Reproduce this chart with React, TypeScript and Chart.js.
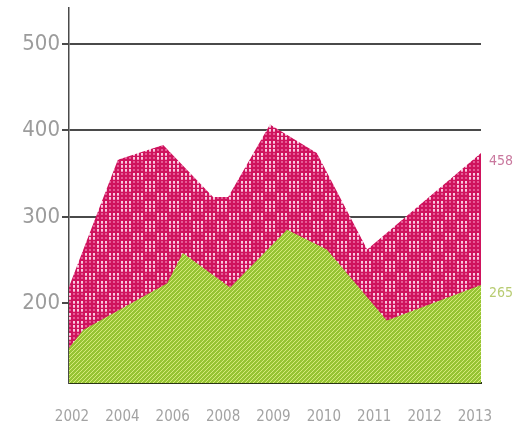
import React, { useEffect, useRef } from "react";
import { Chart, registerables } from "chart.js";

Chart.register(...registerables);

// ---- data ----
const yearLabels = ["2002", "2004", "2006", "2008", "2009", "2010", "2011", "2012", "2013"];
const yTickValues = [200, 300, 400, 500];

// x values are positions along the year axis (0 = 2002 label, 8 = 2013 label)
const pinkX = [-0.06, 0.91, 1.81, 2.8, 3.1, 3.93, 4.86, 5.86, 8.12];
const pinkY = [219, 366, 383, 323, 323, 407, 374, 262, 374];
const greenX = [-0.06, 0.22, 1.89, 2.2, 3.14, 4.27, 5.06, 6.25, 8.12];
const greenY = [148, 169, 223, 258, 218, 285, 262, 180, 221];

const pinkEndLabel = "458";
const greenEndLabel = "265";

type FontSpec = { family: string; weight: string; size: number };

function pickFont(stretch: string, size: number, fbSize: number): FontSpec {
  const c = document.createElement("canvas").getContext("2d");
  if (c) {
    c.font = `${size}px "Noto Sans"`;
    const w0 = c.measureText("2002").width;
    c.font = `300 ${stretch} ${size}px "Noto Sans"`;
    const w1 = c.measureText("2002").width;
    if (w1 < w0 * 0.9) return { family: '"Noto Sans"', weight: `300 ${stretch}`, size };
  }
  return { family: '"DejaVu Sans Condensed", "DejaVu Sans", sans-serif', weight: "normal", size: fbSize };
}

function makePinkPattern(): CanvasPattern | string {
  const c = document.createElement("canvas");
  c.width = 24;
  c.height = 20;
  const g = c.getContext("2d");
  if (!g) return "#d0145e";
  g.fillStyle = "#cf135d";
  g.fillRect(0, 0, 24, 20);
  for (let y = 0; y < 20; y += 4) {
    for (let x = 0; x < 24; x += 4) {
      const dense = (x < 12) === (y < 10);
      g.fillStyle = dense ? "#f8c8de" : "#e65a95";
      g.fillRect(x + 1, y + 1, 2, 2);
      if (dense) {
        g.fillStyle = "#ee8db8";
        g.fillRect(x + 1, y + 3, 2, 1);
      }
    }
  }
  return g.createPattern(c, "repeat") || "#d0145e";
}

function makeGreenPattern(): CanvasPattern | string {
  const c = document.createElement("canvas");
  c.width = 8;
  c.height = 8;
  const g = c.getContext("2d");
  if (!g) return "#9cc83a";
  g.fillStyle = "#97c434";
  g.fillRect(0, 0, 8, 8);
  g.strokeStyle = "#d6ea7c";
  g.lineWidth = 1;
  for (let x = -8; x <= 8; x += 4) {
    g.beginPath();
    g.moveTo(x, 8);
    g.lineTo(x + 8, 0);
    g.stroke();
  }
  return g.createPattern(c, "repeat") || "#9cc83a";
}

export default function App() {
  const canvasRef = useRef<HTMLCanvasElement | null>(null);

  useEffect(() => {
    if (!canvasRef.current) return;
    const yFont = pickFont("extra-condensed", 29, 22);
    const xFont = pickFont("condensed", 17, 15);
    const endFont = pickFont("condensed", 17, 14);

    const endLabelPlugin = {
      id: "endLabels",
      afterDatasetsDraw(chart: any) {
        const ctx = chart.ctx;
        chart.data.datasets.forEach((ds: any, i: number) => {
          const meta = chart.getDatasetMeta(i);
          const pt = meta.data[meta.data.length - 1];
          if (!pt || !ds.endLabel) return;
          ctx.save();
          ctx.font = `${endFont.weight} ${endFont.size}px ${endFont.family}`;
          ctx.fillStyle = ds.endLabelColor;
          ctx.textAlign = "left";
          ctx.textBaseline = "middle";
          ctx.fillText(ds.endLabel, chart.chartArea.right + 8, pt.y + 8);
          ctx.restore();
        });
      },
    };

    const pinkData = pinkX.map((x, i) => ({ x, y: pinkY[i] }));
    const greenData = greenX.map((x, i) => ({ x, y: greenY[i] }));

    const chart = new Chart(canvasRef.current, {
      type: "line",
      data: {
        datasets: [
          {
            label: "pink",
            data: pinkData,
            backgroundColor: makePinkPattern(),
            borderWidth: 0,
            pointRadius: 0,
            fill: "start",
            tension: 0,
            order: 2,
            endLabel: pinkEndLabel,
            endLabelColor: "#c9789e",
          } as any,
          {
            label: "green",
            data: greenData,
            backgroundColor: makeGreenPattern(),
            borderWidth: 0,
            pointRadius: 0,
            fill: "start",
            tension: 0,
            order: 1,
            endLabel: greenEndLabel,
            endLabelColor: "#b8cc72",
          } as any,
        ],
      },
      options: {
        animation: false,
        responsive: true,
        maintainAspectRatio: false,
        layout: { padding: { top: 8, right: 35, left: 0, bottom: 0 } },
        plugins: {
          legend: { display: false },
          tooltip: { enabled: false },
        },
        scales: {
          x: {
            type: "linear",
            min: -0.06,
            max: 8.12,
            afterBuildTicks: (s: any) => {
              s.ticks = yearLabels.map((_, i) => ({ value: i }));
            },
            ticks: {
              callback: (_v: any, i: number) => yearLabels[i],
              color: "#a3a3a3",
              font: { family: xFont.family, size: xFont.size, weight: xFont.weight },
              padding: 25,
              maxRotation: 0,
              autoSkip: false,
            },
            grid: { display: false, drawTicks: false },
            border: { display: true, color: "#2b3516", width: 2 },
            afterFit: (s: any) => {
              s.height = 46;
              s.paddingLeft = 0;
              s.paddingRight = 0;
            },
          },
          y: {
            type: "linear",
            min: 107.5,
            max: 541.8,
            afterBuildTicks: (s: any) => {
              s.ticks = yTickValues.map((v) => ({ value: v }));
            },
            ticks: {
              color: "#9c9c9c",
              font: { family: yFont.family, size: yFont.size, weight: yFont.weight },
              padding: 2,
            },
            grid: { color: "#4a4a4a", lineWidth: 2, tickLength: 7, drawTicks: true },
            border: { display: true, color: "#4a4a4a", width: 1.5 },
            afterFit: (s: any) => {
              s.width = 69;
              s.paddingTop = 0;
              s.paddingBottom = 0;
            },
          },
        },
      } as any,
      plugins: [endLabelPlugin],
    });
    return () => chart.destroy();
  }, []);

  return (
    <div style={{ position: "fixed", left: 0, top: 0, width: 516, height: 429, background: "#fff" }}>
      <canvas ref={canvasRef} />
    </div>
  );
}
